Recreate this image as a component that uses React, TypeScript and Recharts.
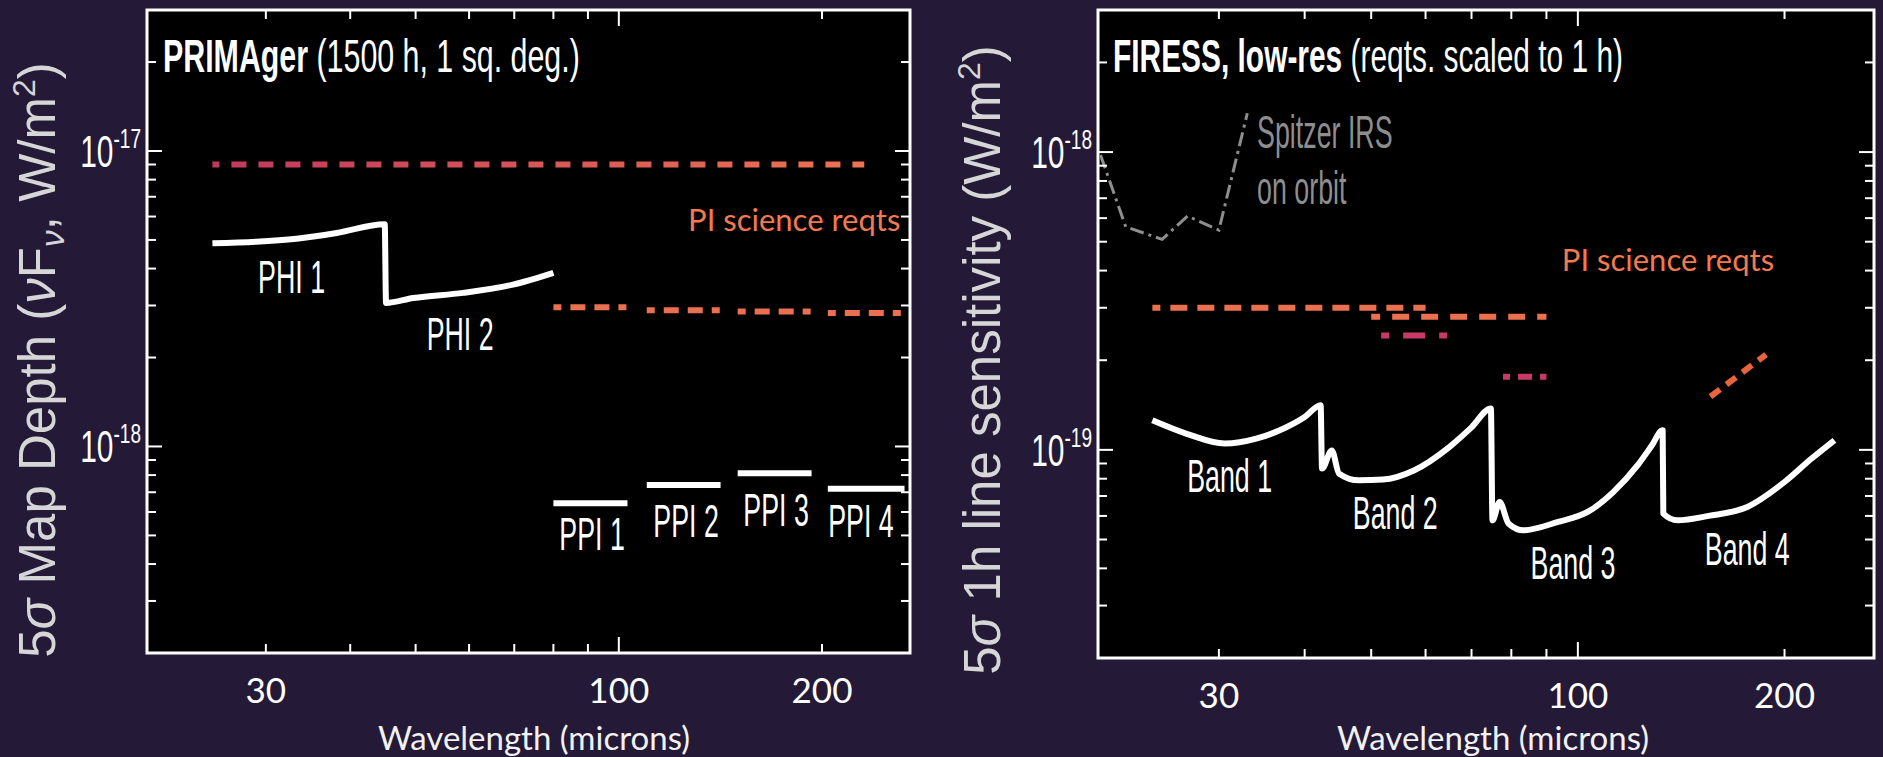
import React from "react";
import { LineChart, Line, XAxis, YAxis, ReferenceArea, ReferenceDot } from "recharts";

// shared wavelength axis (microns)
const waveDomain = [20, 270];
const waveTicks = [20, 30, 40, 50, 60, 70, 80, 90, 100, 200];
const waveLabels = [30, 100, 200];

// ---- PRIMAger panel (W/m^2) ----
const primDomain = [2e-19, 3e-17];
const primTicks = [
  2e-19, 3e-19, 4e-19, 5e-19, 6e-19, 7e-19, 8e-19, 9e-19,
  1e-18, 2e-18, 3e-18, 4e-18, 5e-18, 6e-18, 7e-18, 8e-18, 9e-18,
  1e-17, 2e-17, 3e-17,
];
const phiCurve = [
  { x: 25, y: 4.87e-18 },
  { x: 29, y: 4.93e-18 },
  { x: 33.3, y: 5.05e-18 },
  { x: 38.2, y: 5.28e-18 },
  { x: 45, y: 5.65e-18 },
  { x: 45.2, y: 3.06e-18 },
  { x: 49.6, y: 3.18e-18 },
  { x: 58.8, y: 3.31e-18 },
  { x: 69.7, y: 3.53e-18 },
  { x: 80, y: 3.87e-18 },
];
const primReqTop = [{ x: 25, y: 9.0e-18 }, { x: 231, y: 9.0e-18 }];
const primReq1 = [{ x: 80, y: 2.96e-18 }, { x: 103, y: 2.96e-18 }];
const primReq2 = [{ x: 110, y: 2.89e-18 }, { x: 141.5, y: 2.89e-18 }];
const primReq3 = [{ x: 150, y: 2.86e-18 }, { x: 193, y: 2.86e-18 }];
const primReq4 = [{ x: 204, y: 2.83e-18 }, { x: 266, y: 2.83e-18 }];
const ppi1 = [{ x: 80, y: 6.43e-19 }, { x: 103, y: 6.43e-19 }];
const ppi2 = [{ x: 110, y: 7.41e-19 }, { x: 141.5, y: 7.41e-19 }];
const ppi3 = [{ x: 150, y: 8.12e-19 }, { x: 193, y: 8.12e-19 }];
const ppi4 = [{ x: 204, y: 7.19e-19 }, { x: 265, y: 7.19e-19 }];
const primLabels = [
  { text: "PHI 1", x: 32.75, y: 3.77e-18 },
  { text: "PHI 2", x: 58.2, y: 2.42e-18 },
  { text: "PPI 1", x: 91.3, y: 5.08e-19 },
  { text: "PPI 2", x: 125.8, y: 5.64e-19 },
  { text: "PPI 3", x: 171, y: 6.1e-19 },
  { text: "PPI 4", x: 228.4, y: 5.64e-19 },
];
const primReqLabel = { text: "PI science reqts", x: 181.9, y: 5.87e-18 };

// ---- FIRESS panel (W/m^2) ----
const firDomain = [2e-20, 3e-18];
const firTicks = [
  2e-20, 3e-20, 4e-20, 5e-20, 6e-20, 7e-20, 8e-20, 9e-20,
  1e-19, 2e-19, 3e-19, 4e-19, 5e-19, 6e-19, 7e-19, 8e-19, 9e-19,
  1e-18, 2e-18, 3e-18,
];
const bandCurve = [
  { x: 24.0, y: 1.257e-19 },
  { x: 27, y: 1.13e-19 },
  { x: 30.6, y: 1.05e-19 },
  { x: 34, y: 1.09e-19 },
  { x: 36.8, y: 1.164e-19 },
  { x: 40, y: 1.29e-19 },
  { x: 42.2, y: 1.413e-19 },
  { x: 42.4, y: 8.65e-20 },
  { x: 43.8, y: 9.96e-20 },
  { x: 44.9, y: 8.32e-20 },
  { x: 48, y: 7.9e-20 },
  { x: 52, y: 7.95e-20 },
  { x: 57.7, y: 8.53e-20 },
  { x: 64.9, y: 1.02e-19 },
  { x: 70, y: 1.19e-19 },
  { x: 74.7, y: 1.377e-19 },
  { x: 75.1, y: 5.8e-20 },
  { x: 76.9, y: 6.68e-20 },
  { x: 79.3, y: 5.65e-20 },
  { x: 83.3, y: 5.37e-20 },
  { x: 93.6, y: 5.73e-20 },
  { x: 103.5, y: 6.2e-20 },
  { x: 112.5, y: 7.2e-20 },
  { x: 122.3, y: 8.9e-20 },
  { x: 128, y: 1.03e-19 },
  { x: 132.9, y: 1.164e-19 },
  { x: 133.2, y: 6.11e-20 },
  { x: 139.7, y: 5.8e-20 },
  { x: 155, y: 6.0e-20 },
  { x: 176.5, y: 6.43e-20 },
  { x: 200, y: 7.8e-20 },
  { x: 219, y: 9.35e-20 },
  { x: 236.4, y: 1.077e-19 },
];
const spitzer = [
  { x: 20.17, y: 9.77e-19 },
  { x: 21.95, y: 5.61e-19 },
  { x: 24.8, y: 5.09e-19 },
  { x: 27.0, y: 6.1e-19 },
  { x: 30.0, y: 5.47e-19 },
  { x: 33.0, y: 1.35e-18 },
];
const firReqA = [{ x: 24, y: 3.0e-19 }, { x: 60, y: 3.0e-19 }];
const firReqB = [{ x: 50, y: 2.8e-19 }, { x: 90, y: 2.8e-19 }];
const firReqC = [{ x: 51.7, y: 2.42e-19 }, { x: 64.5, y: 2.42e-19 }];
const firReqD = [{ x: 77.8, y: 1.76e-19 }, { x: 90, y: 1.76e-19 }];
const firReqE = [{ x: 156, y: 1.51e-19 }, { x: 188, y: 2.09e-19 }];
const bandLabels = [
  { text: "Band 1", x: 31.1, y: 8.22e-20 },
  { text: "Band 2", x: 54.2, y: 6.18e-20 },
  { text: "Band 3", x: 98.4, y: 4.2e-20 },
  { text: "Band 4", x: 176.5, y: 4.66e-20 },
];
const spitzerLabels = [
  { text: "Spitzer IRS", x: 34.1, y: 1.177e-18 },
  { text: "on orbit", x: 34.1, y: 7.58e-19 },
];
const firReqLabel = { text: "PI science reqts", x: 135.3, y: 4.39e-19 };

// ---- layout ----
const BG = "#241a38";
const HELV = "'Liberation Sans', Arial, Helvetica, sans-serif";
const CALI = "Lato, 'Open Sans', sans-serif";
const ORANGE = "#ea7050";
const MAGENTA = "#c73a68";
const LEFT = { w: 940, h: 757, m: { top: 10, right: 30, bottom: 103, left: 146 } };
const RIGHT = { w: 943, h: 757, m: { top: 10, right: 9, bottom: 98, left: 157 } };
const NARROW = 0.57;

const isDecade = (v: number) => Math.abs(Math.log10(v) - Math.round(Math.log10(v))) < 1e-6;

const xTick = (plotTop: number) => (p: any) => {
  const v = p.payload.value;
  const len = isDecade(v) ? 16 : 9;
  return (
    <g>
      <line x1={p.x} x2={p.x} y1={p.y} y2={p.y - len} stroke="#fff" strokeWidth={2} />
      <line x1={p.x} x2={p.x} y1={plotTop} y2={plotTop + len} stroke="#fff" strokeWidth={2} />
      {waveLabels.includes(v) && (
        <text x={p.x} y={p.y + 50} textAnchor="middle" fill="#fff" fontSize={35} fontFamily={CALI}>
          {v}
        </text>
      )}
    </g>
  );
};

const yTick = (plotRight: number) => (p: any) => {
  const v = p.payload.value;
  const major = isDecade(v);
  const len = major ? 15 : 9;
  return (
    <g>
      <line x1={p.x} x2={p.x + len} y1={p.y} y2={p.y} stroke="#fff" strokeWidth={2} />
      <line x1={plotRight} x2={plotRight - len} y1={p.y} y2={p.y} stroke="#fff" strokeWidth={2} />
      {major && (
        <text
          x={p.x - 6}
          y={p.y + 16}
          textAnchor="end"
          fill="#fff"
          fontFamily={HELV}
          style={{ transform: "scaleX(0.68)", transformBox: "fill-box", transformOrigin: "right center" }}
        >
          <tspan fontSize={44}>10</tspan>
          <tspan fontSize={28} dy={-19}>{Math.round(Math.log10(v))}</tspan>
        </text>
      )}
    </g>
  );
};

const labelShape =
  (text: string, fill = "#fff", anchor: "middle" | "start" = "middle") =>
  (p: any) => (
    <text
      x={p.cx}
      y={p.cy}
      fill={fill}
      fontSize={47}
      fontFamily={HELV}
      textAnchor={anchor}
      dominantBaseline="central"
      style={{
        transform: `scaleX(${NARROW})`,
        transformBox: "fill-box",
        transformOrigin: anchor === "start" ? "left center" : "center",
      }}
    >
      {text}
    </text>
  );

const reqShape = (text: string) => (p: any) => (
  <text x={p.cx} y={p.cy} fill="#f27a4e" fontSize={31} fontFamily={CALI} textAnchor="middle" dominantBaseline="central">
    {text}
  </text>
);

function Overlay() {
  return (
    <svg width={1883} height={757} style={{ position: "absolute", left: 0, top: 0, pointerEvents: "none" }}>
      <text transform="translate(163 72) scale(0.66 1)" fill="#fff" fontSize={46} fontFamily={HELV}>
        <tspan fontWeight="bold">PRIMAger</tspan> (1500 h, 1 sq. deg.)
      </text>
      <text transform="translate(1113 72) scale(0.65 1)" fill="#fff" fontSize={46} fontFamily={HELV}>
        <tspan fontWeight="bold">FIRESS, low-res</tspan> (reqts. scaled to 1 h)
      </text>
      <text transform="translate(55 360) rotate(-90)" textAnchor="middle" fill="#d6d6d6" fontSize={51} fontFamily={HELV}>
        5<tspan fontStyle="italic">σ</tspan> Map Depth (<tspan fontStyle="italic">ν</tspan>F
        <tspan fontStyle="italic" fontSize={34} dy={9}>ν</tspan>
        <tspan dy={-9}>, W/m</tspan>
        <tspan fontSize={32} dy={-20}>2</tspan>
        <tspan dy={20}>)</tspan>
      </text>
      <text transform="translate(1000 360) rotate(-90)" textAnchor="middle" fill="#d6d6d6" fontSize={51} fontFamily={HELV}>
        5<tspan fontStyle="italic">σ</tspan> 1h line sensitivity (W/m
        <tspan fontSize={32} dy={-20}>2</tspan>
        <tspan dy={20}>)</tspan>
      </text>
      <text x={534} y={750} textAnchor="middle" fill="#f2f2f2" fontSize={33} fontFamily={CALI}>
        Wavelength (microns)
      </text>
      <text x={1493} y={750} textAnchor="middle" fill="#f2f2f2" fontSize={33} fontFamily={CALI}>
        Wavelength (microns)
      </text>
    </svg>
  );
}

function PrimagerChart() {
  const { w, h, m } = LEFT;
  return (
    <LineChart width={w} height={h} margin={m}>
      <defs>
        <linearGradient id="reqFade" gradientUnits="userSpaceOnUse" x1={200} y1={0} x2={870} y2={0}>
          <stop offset="0" stopColor="#c2375e" />
          <stop offset="1" stopColor="#ec7550" />
        </linearGradient>
      </defs>
      <ReferenceArea
        x1={waveDomain[0]}
        x2={waveDomain[1]}
        y1={primDomain[0]}
        y2={primDomain[1]}
        ifOverflow="visible"
        fill="#000"
        fillOpacity={1}
        stroke="#fff"
        strokeWidth={3}
      />
      <XAxis
        dataKey="x"
        type="number"
        scale="log"
        domain={waveDomain}
        allowDataOverflow
        ticks={waveTicks}
        interval={0}
        height={1}
        tickSize={0}
        tickMargin={0}
        axisLine={false}
        tickLine={false}
        tick={xTick(m.top)}
      />
      <YAxis
        dataKey="y"
        type="number"
        scale="log"
        domain={primDomain}
        allowDataOverflow
        ticks={primTicks}
        interval={0}
        width={1}
        tickSize={0}
        tickMargin={0}
        axisLine={false}
        tickLine={false}
        tick={yTick(w - m.right)}
      />
      <Line data={primReqTop} dataKey="y" stroke="url(#reqFade)" strokeWidth={6} strokeDasharray="15 12" strokeDashoffset={8} dot={false} activeDot={false} isAnimationActive={false} />
      {[primReq1, primReq2, primReq3, primReq4].map((seg, i) => (
        <Line key={`req${i}`} data={seg} dataKey="y" stroke={ORANGE} strokeWidth={6} strokeDasharray="8 9 15 9 15 9 8 200" dot={false} activeDot={false} isAnimationActive={false} />
      ))}
      <Line data={phiCurve} dataKey="y" type="monotone" stroke="#fff" strokeWidth={6} strokeLinejoin="round" dot={false} activeDot={false} isAnimationActive={false} />
      {[ppi1, ppi2, ppi3, ppi4].map((seg, i) => (
        <Line key={`ppi${i}`} data={seg} dataKey="y" stroke="#fff" strokeWidth={6} dot={false} activeDot={false} isAnimationActive={false} />
      ))}
      {primLabels.map((l) => (
        <ReferenceDot key={l.text} x={l.x} y={l.y} r={0} ifOverflow="visible" shape={labelShape(l.text)} />
      ))}
      <ReferenceDot x={primReqLabel.x} y={primReqLabel.y} r={0} ifOverflow="visible" shape={reqShape(primReqLabel.text)} />
    </LineChart>
  );
}

function FiressChart() {
  const { w, h, m } = RIGHT;
  return (
    <LineChart width={w} height={h} margin={m}>
      <ReferenceArea
        x1={waveDomain[0]}
        x2={waveDomain[1]}
        y1={firDomain[0]}
        y2={firDomain[1]}
        ifOverflow="visible"
        fill="#000"
        fillOpacity={1}
        stroke="#fff"
        strokeWidth={3}
      />
      <XAxis
        dataKey="x"
        type="number"
        scale="log"
        domain={waveDomain}
        allowDataOverflow
        ticks={waveTicks}
        interval={0}
        height={1}
        tickSize={0}
        tickMargin={0}
        axisLine={false}
        tickLine={false}
        tick={xTick(m.top)}
      />
      <YAxis
        dataKey="y"
        type="number"
        scale="log"
        domain={firDomain}
        allowDataOverflow
        ticks={firTicks}
        interval={0}
        width={1}
        tickSize={0}
        tickMargin={0}
        axisLine={false}
        tickLine={false}
        tick={yTick(w - m.right)}
      />
      <Line data={spitzer} dataKey="y" stroke="#8e8e8e" strokeWidth={3} strokeDasharray="14 5 3 5" dot={false} activeDot={false} isAnimationActive={false} />
      <Line data={firReqA} dataKey="y" stroke={ORANGE} strokeWidth={6} strokeDasharray="17 10" strokeDashoffset={9} dot={false} activeDot={false} isAnimationActive={false} />
      <Line data={firReqB} dataKey="y" stroke={ORANGE} strokeWidth={6} strokeDasharray="17 12" strokeDashoffset={8} dot={false} activeDot={false} isAnimationActive={false} />
      <Line data={firReqC} dataKey="y" stroke={MAGENTA} strokeWidth={6} strokeDasharray="8 14 22 14 8 200" dot={false} activeDot={false} isAnimationActive={false} />
      <Line data={firReqD} dataKey="y" stroke={MAGENTA} strokeWidth={6} strokeDasharray="7 8 14 8 7 200" dot={false} activeDot={false} isAnimationActive={false} />
      <Line data={firReqE} dataKey="y" stroke="#e8643e" strokeWidth={6} strokeDasharray="12 8" dot={false} activeDot={false} isAnimationActive={false} />
      <Line data={bandCurve} dataKey="y" type="monotone" stroke="#fff" strokeWidth={6} strokeLinejoin="round" dot={false} activeDot={false} isAnimationActive={false} />
      {bandLabels.map((l) => (
        <ReferenceDot key={l.text} x={l.x} y={l.y} r={0} ifOverflow="visible" shape={labelShape(l.text)} />
      ))}
      {spitzerLabels.map((l) => (
        <ReferenceDot key={l.text} x={l.x} y={l.y} r={0} ifOverflow="visible" shape={labelShape(l.text, "#8e8e8e", "start")} />
      ))}
      <ReferenceDot x={firReqLabel.x} y={firReqLabel.y} r={0} ifOverflow="visible" shape={reqShape(firReqLabel.text)} />
    </LineChart>
  );
}

export default function App() {
  return (
    <div style={{ position: "absolute", left: 0, top: 0, width: 1883, height: 757, background: BG, overflow: "hidden" }}>
      <div style={{ position: "absolute", left: 0, top: 0 }}>
        <PrimagerChart />
      </div>
      <div style={{ position: "absolute", left: 940, top: 0 }}>
        <FiressChart />
      </div>
      <Overlay />
    </div>
  );
}
